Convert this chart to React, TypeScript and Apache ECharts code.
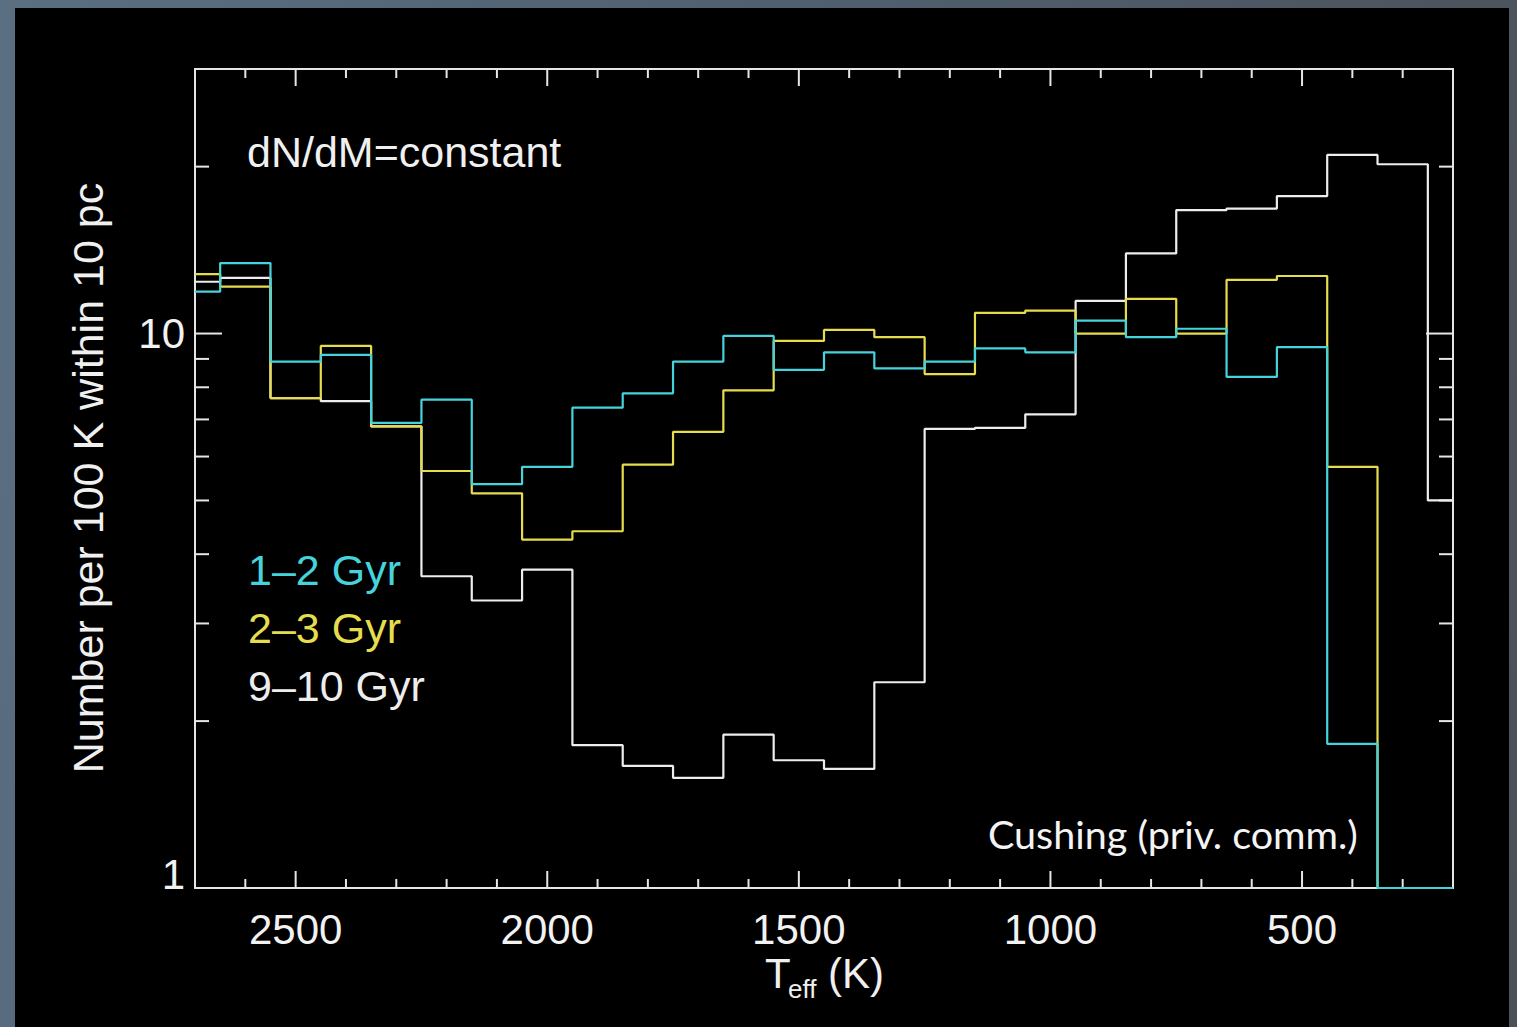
import React, { useEffect, useRef } from "react";
import * as echarts from "echarts";

// Bin centres (K), 100 K wide bins
const temperatures = [
  2700, 2600, 2500, 2400, 2300, 2200, 2100, 2000, 1900, 1800, 1700, 1600, 1500,
  1400, 1300, 1200, 1100, 1000, 900, 800, 700, 600, 500, 400, 300, 200,
];

// Number per 100 K within 10 pc, per age bin
const gyr1to2 = [
  11.9, 13.4, 8.9, 9.15, 6.9, 7.6, 5.35, 5.75, 7.35, 7.8, 8.9, 9.9, 8.6, 9.25,
  8.65, 8.9, 9.4, 9.25, 10.55, 9.85, 10.2, 8.35, 9.45, 1.82, 1, 1,
];
const gyr2to3 = [
  12.8, 12.15, 7.65, 9.5, 6.8, 5.65, 5.15, 4.25, 4.4, 5.8, 6.65, 7.9, 9.7,
  10.15, 9.85, 8.45, 10.9, 11.0, 10.0, 11.55, 10.0, 12.5, 12.7, 5.75, 1, 1,
];
const gyr9to10 = [
  12.4, 12.6, 7.65, 7.55, 6.8, 3.65, 3.3, 3.75, 1.81, 1.66, 1.58, 1.89, 1.7,
  1.64, 2.35, 6.73, 6.76, 7.15, 11.45, 13.95, 16.7, 16.8, 17.7, 21.0, 20.2, 5.0,
];

// Axis ticks
const xMajorTicks = [500, 1000, 1500, 2000, 2500];
const xMinorTicks = [
  300, 400, 600, 700, 800, 900, 1100, 1200, 1300, 1400, 1600, 1700, 1800, 1900,
  2100, 2200, 2300, 2400, 2600,
];
const yMajorTicks = [1, 10];
const yMinorTicks = [2, 3, 4, 5, 6, 7, 8, 9, 20, 30];

const CYAN = "#46d3dc";
const YELLOW = "#e6dd4e";
const WHITE = "#ededed";
const FRAME = "#e6e6e6";

const seriesDefs = [
  { name: "9–10 Gyr", values: gyr9to10, color: WHITE },
  { name: "2–3 Gyr", values: gyr2to3, color: YELLOW },
  { name: "1–2 Gyr", values: gyr1to2, color: CYAN },
];

const legendEntries = [
  { label: "1–2 Gyr", color: CYAN, y: 570 },
  { label: "2–3 Gyr", color: YELLOW, y: 628 },
  { label: "9–10 Gyr", color: WHITE, y: 686 },
];

const SANS = '"Liberation Sans", Arial, Helvetica, sans-serif';

function textEl(
  text: string,
  x: number,
  y: number,
  fontSize: number,
  fill: string,
  align: string = "left",
  fontFamily: string = SANS,
  rotation: number = 0
) {
  return {
    type: "text",
    x,
    y,
    rotation,
    silent: true,
    style: {
      text,
      fill,
      fontSize,
      fontFamily,
      align,
      textAlign: align,
      verticalAlign: "middle",
      textVerticalAlign: "middle",
    },
  };
}

export default function App() {
  const ref = useRef<HTMLDivElement>(null);

  useEffect(() => {
    if (!ref.current) return;
    const chart = echarts.init(ref.current, undefined, { renderer: "svg" });

    const xTickData = [
      ...xMajorTicks.map((t) => [t, 1, 17]),
      ...xMinorTicks.map((t) => [t, 1, 9]),
    ];
    const yTickData = [
      ...yMajorTicks.map((v) => [2700, v, 27]),
      ...yMinorTicks.map((v) => [2700, v, 14]),
    ];

    const tickStyle = { stroke: FRAME, lineWidth: 2 };

    const option: any = {
      animation: false,
      backgroundColor: "transparent",
      grid: { left: 195, top: 69, width: 1258, height: 819 },
      xAxis: [
        {
          type: "value",
          min: 200,
          max: 2700,
          interval: 100,
          inverse: true,
          position: "bottom",
          axisLine: { show: true, onZero: false, lineStyle: { color: FRAME, width: 2 } },
          axisTick: { show: false },
          splitLine: { show: false },
          axisLabel: {
            color: "#f2f2f2",
            fontSize: 42,
            fontFamily: SANS,
            margin: 20,
            showMinLabel: false,
            showMaxLabel: false,
            formatter: (v: number) =>
              xMajorTicks.includes(Math.round(v)) ? String(Math.round(v)) : "",
          },
        },
        {
          type: "value",
          min: 200,
          max: 2700,
          inverse: true,
          position: "top",
          axisLine: { show: true, onZero: false, lineStyle: { color: FRAME, width: 2 } },
          axisTick: { show: false },
          splitLine: { show: false },
          axisLabel: { show: false },
        },
      ],
      yAxis: [
        {
          type: "log",
          logBase: 10,
          min: 1,
          max: 30,
          position: "left",
          axisLine: { show: true, onZero: false, lineStyle: { color: FRAME, width: 2 } },
          axisTick: { show: false },
          splitLine: { show: false },
          axisLabel: {
            color: "#f2f2f2",
            fontSize: 42,
            fontFamily: SANS,
            margin: 10,
            formatter: (v: number) => {
              const e = Math.log10(v);
              if (Math.abs(e - Math.round(e)) > 1e-6 || v > 15) return "";
              return Math.round(v) === 1 ? "{lo|1}" : String(Math.round(v));
            },
            rich: {
              lo: {
                fontSize: 42,
                fontFamily: SANS,
                color: "#f2f2f2",
                padding: [0, 0, 28, 0],
              },
            },
          },
        },
        {
          type: "log",
          logBase: 10,
          min: 1,
          max: 30,
          position: "right",
          axisLine: { show: true, onZero: false, lineStyle: { color: FRAME, width: 2 } },
          axisTick: { show: false },
          splitLine: { show: false },
          axisLabel: { show: false },
        },
      ],
      series: [
        // tick marks on top and bottom edges
        {
          type: "custom",
          xAxisIndex: 0,
          yAxisIndex: 0,
          silent: true,
          clip: false,
          z: 3,
          data: xTickData,
          encode: { x: 0, y: 1 },
          renderItem: (params: any, api: any) => {
            const cs = params.coordSys;
            const px = api.coord([api.value(0), 1])[0];
            const len = api.value(2);
            const top = cs.y;
            const bottom = cs.y + cs.height;
            return {
              type: "group",
              children: [
                { type: "line", shape: { x1: px, y1: bottom, x2: px, y2: bottom - len }, style: tickStyle },
                { type: "line", shape: { x1: px, y1: top, x2: px, y2: top + len }, style: tickStyle },
              ],
            };
          },
        },
        // tick marks on left and right edges
        {
          type: "custom",
          xAxisIndex: 0,
          yAxisIndex: 0,
          silent: true,
          clip: false,
          z: 3,
          data: yTickData,
          encode: { x: 0, y: 1 },
          renderItem: (params: any, api: any) => {
            const cs = params.coordSys;
            const py = api.coord([2700, api.value(1)])[1];
            const len = api.value(2);
            const left = cs.x;
            const right = cs.x + cs.width;
            return {
              type: "group",
              children: [
                { type: "line", shape: { x1: left, y1: py, x2: left + len, y2: py }, style: tickStyle },
                { type: "line", shape: { x1: right, y1: py, x2: right - len, y2: py }, style: tickStyle },
              ],
            };
          },
        },
        ...seriesDefs.map((s, i) => ({
          name: s.name,
          type: "line",
          xAxisIndex: 0,
          yAxisIndex: 0,
          step: "middle",
          symbol: "none",
          showSymbol: false,
          clip: false,
          z: 4 + i,
          lineStyle: { color: s.color, width: 2.2 },
          data: temperatures.map((t, k) => [t, s.values[k]]),
        })),
      ],
      graphic: [
        textEl("dN/dM=constant", 247, 152, 43, "#f0f0f0"),
        ...legendEntries.map((e) => textEl(e.label, 248, e.y, 43, e.color)),
        textEl("Cushing (priv. comm.)", 988, 833, 39.5, "#f4f4f4", "left", 'Lato, "Open Sans", sans-serif'),
        textEl("Number per 100 K within 10 pc", 88, 478, 43, "#f0f0f0", "center", SANS, Math.PI / 2),
        textEl("T", 765, 973, 42, "#f0f0f0"),
        textEl("eff", 788, 989, 26, "#f0f0f0"),
        textEl("(K)", 828, 973, 42, "#f0f0f0"),
      ],
    };

    chart.setOption(option);
    return () => chart.dispose();
  }, []);

  return (
    <div
      style={{
        position: "fixed",
        left: 0,
        top: 0,
        width: 1517,
        height: 1027,
        overflow: "hidden",
        background: "linear-gradient(100deg, #5b6f83 0%, #516070 45%, #4b5159 100%)",
      }}
    >
      <div
        style={{
          position: "absolute",
          left: 15,
          top: 8,
          width: 1494,
          height: 1030,
          background: "#000",
        }}
      />
      <div
        ref={ref}
        style={{ position: "absolute", left: 0, top: 0, width: 1517, height: 1027 }}
      />
    </div>
  );
}
